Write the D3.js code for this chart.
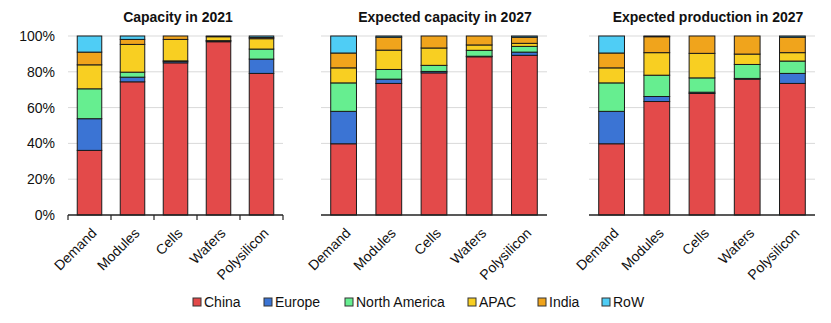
<!DOCTYPE html>
<html><head><meta charset="utf-8">
<script src="https://cdn.jsdelivr.net/npm/d3@7"></script>
<style>body{margin:0;background:#fff}svg{display:block;font-family:"Liberation Sans",Arial,sans-serif}</style>
</head><body><svg id="c" width="831" height="323"></svg>
<script>
const categories = ["Demand","Modules","Cells","Wafers","Polysilicon"];
const regions = ["China","Europe","North America","APAC","India","RoW"];
const colors = ["#e34a4a","#3b74d4","#66ee90","#f8cf22","#f0a41c","#4fcdf5"];
const panelTitles = ["Capacity in 2021","Expected capacity in 2027","Expected production in 2027"];
const yTicks = [0,20,40,60,80,100];
// rows: regions (China..RoW), columns: categories
const capacity2021 = [
  [36.1, 74.4, 85.0, 96.8, 79.1],
  [17.7, 2.6, 0.8, 0.5, 8.0],
  [16.7, 2.8, 0.3, 0.1, 5.6],
  [13.4, 15.5, 12.0, 2.2, 5.8],
  [7.1, 2.8, 1.9, 0.4, 0.7],
  [9.0, 1.9, 0.0, 0.0, 0.8]
];
const expectedCapacity2027 = [
  [39.8, 73.5, 79.4, 88.4, 89.2],
  [18.1, 2.4, 0.8, 0.3, 1.8],
  [15.9, 5.4, 3.4, 3.3, 3.2],
  [8.4, 10.8, 9.7, 3.0, 1.7],
  [8.3, 7.2, 6.7, 5.0, 3.4],
  [9.5, 0.7, 0.0, 0.0, 0.7]
];
const expectedProduction2027 = [
  [39.8, 63.4, 67.9, 75.9, 73.5],
  [18.1, 2.8, 0.7, 0.4, 5.6],
  [15.9, 11.9, 8.0, 7.8, 6.9],
  [8.4, 12.6, 13.7, 5.8, 4.7],
  [8.3, 8.9, 9.7, 10.1, 8.6],
  [9.5, 0.4, 0.0, 0.0, 0.7]
];
const panelData = [capacity2021, expectedCapacity2027, expectedProduction2027];

const svg = d3.select("#c");
const plotTop = 36, plotBottom = 215;
const panels = [
  {x0: 68, x1: 283, tx: 178, ticks: true, yaxis: true},
  {x0: 321, x1: 547, tx: 445, ticks: false, yaxis: false},
  {x0: 589, x1: 815, tx: 708, ticks: false, yaxis: false}
];
const y = d3.scaleLinear().domain([0,100]).range([plotBottom, plotTop]);

panels.forEach((p, pi) => {
  const g = svg.append("g");
  const x = d3.scaleBand().domain(categories).range([p.x0, p.x1]).paddingInner(0.43).paddingOuter(0.215);
  g.selectAll("line.grid").data(yTicks.filter(t => t > 0)).join("line")
    .attr("x1", p.x0).attr("x2", p.x1)
    .attr("y1", d => y(d)).attr("y2", d => y(d))
    .attr("stroke", "#d9d9d9").attr("stroke-width", 1);
  if (p.yaxis) {
    g.selectAll("text.yl").data(yTicks).join("text")
      .attr("x", 55).attr("y", d => y(d)).attr("dy", "0.35em")
      .attr("text-anchor", "end").attr("font-size", 14).attr("fill", "#111")
      .text(d => d + "%");
  }
  const data = panelData[pi];
  const rows = categories.map((c, ci) => {
    const o = {cat: c};
    regions.forEach((r, ri) => o[r] = data[ri][ci]);
    return o;
  });
  const stack = d3.stack().keys(regions)(rows);
  stack.forEach((layer, li) => {
    g.append("g").selectAll("rect").data(layer.filter(d => d[1] - d[0] > 0)).join("rect")
      .attr("x", d => x(d.data.cat)).attr("width", x.bandwidth())
      .attr("y", d => y(d[1])).attr("height", d => y(d[0]) - y(d[1]))
      .attr("fill", colors[li]).attr("stroke", "#1a1a1a").attr("stroke-width", 1);
  });
  g.append("line").attr("x1", p.x0).attr("x2", p.x1).attr("y1", plotBottom).attr("y2", plotBottom)
    .attr("stroke", "#222").attr("stroke-width", 1.5);
  if (p.ticks) {
    const bounds = categories.map(c => x(c) - x.step() * x.paddingInner() / 2).concat([p.x1]);
    g.selectAll("line.tk").data(bounds).join("line")
      .attr("x1", d => d).attr("x2", d => d).attr("y1", plotBottom).attr("y2", plotBottom + 5)
      .attr("stroke", "#222").attr("stroke-width", 1.2);
  }
  g.selectAll("text.xl").data(categories).join("text")
    .attr("transform", d => `translate(${x(d) + x.bandwidth() / 2 + 1},${plotBottom + 12}) rotate(-45)`)
    .attr("text-anchor", "end").attr("dy", "0.7em").attr("font-size", 14).attr("fill", "#111")
    .text(d => d);
  g.append("text").attr("x", p.tx).attr("y", 22).attr("text-anchor", "middle")
    .attr("font-size", 14).attr("font-weight", "bold").attr("fill", "#111").text(panelTitles[pi]);
});

const legendX = [193, 264, 345, 468, 538, 602];
const lg = svg.append("g");
regions.forEach((r, i) => {
  lg.append("rect").attr("x", legendX[i]).attr("y", 298).attr("width", 8).attr("height", 8)
    .attr("fill", colors[i]).attr("stroke", "#333").attr("stroke-width", 1);
  lg.append("text").attr("x", legendX[i] + 11).attr("y", 302).attr("dy", "0.35em")
    .attr("font-size", 14).attr("fill", "#111").text(r);
});
</script></body></html>
